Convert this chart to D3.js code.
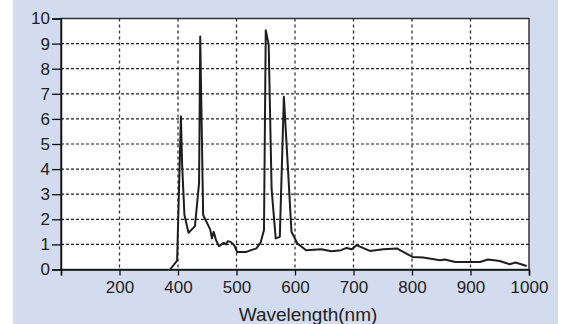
<!DOCTYPE html>
<html>
<head>
<meta charset="utf-8">
<script src="https://cdn.jsdelivr.net/npm/d3@7"></script>
<style>
  body { margin: 0; background: #fff; }
  svg { display: block; }
  .tick text { font-family: "Liberation Sans", Arial, sans-serif; font-size: 17px; fill: #222; }
</style>
</head>
<body>
<div id="chart"></div>
<script>
// valeurs (nm, intensité)
var longueurs = [373, 397, 405, 407, 411, 418, 429, 436, 438, 443, 455, 458, 461, 465, 470, 478, 482, 485, 490, 496,
  501, 517, 525, 534, 541, 547, 550, 555, 560, 567, 574, 581, 588, 594, 604, 619, 645, 662, 679, 688, 697, 705,
  728, 751, 774, 801, 819, 848, 856, 874, 916, 930, 950, 967, 977, 996];
var intensites = [0, 0.35, 6.1, 4.2, 2.17, 1.46, 1.73, 3.45, 9.28, 2.17, 1.6, 1.24, 1.5, 1.17, 0.93, 1.06, 1.0, 1.13, 1.1, 0.97,
  0.7, 0.7, 0.77, 0.84, 1.06, 1.57, 9.53, 8.97, 3.2, 1.24, 1.3, 6.88, 4.0, 1.5, 1.04, 0.77, 0.81, 0.73, 0.77, 0.86, 0.81, 0.97,
  0.74, 0.81, 0.84, 0.5, 0.48, 0.37, 0.4, 0.3, 0.3, 0.4, 0.34, 0.21, 0.28, 0.14];

var ticksX = [0, 200, 400, 500, 600, 700, 800, 900, 1000];
var ticksY = [0, 1, 2, 3, 4, 5, 6, 7, 8, 9, 10];
var titreX = "Wavelength(nm)";

var largeur = 584, hauteur = 324;
var marge = { haut: 18.5, gauche: 61 };
var w = 468, h = 251;

var svg = d3.select("#chart").append("svg")
  .attr("width", largeur)
  .attr("height", hauteur);

// fond bleuté
svg.append("rect")
  .attr("x", 13).attr("y", 0)
  .attr("width", 545).attr("height", hauteur)
  .attr("fill", "#d3dbee");

var g = svg.append("g").attr("transform", "translate(" + marge.gauche + "," + marge.haut + ")");

g.append("rect").attr("width", w).attr("height", h).attr("fill", "#fff");

// axe x par morceaux : 0-200, 200-400 puis 400-1000
var x = d3.scaleLinear().domain([0, 200, 400, 1000]).range([0, w / 8, w / 4, w]);
var y = d3.scaleLinear().domain([0, 10]).range([h, 0]);

// grille pointillée
g.append("g").selectAll("line")
  .data(ticksX.slice(1, -1))
  .enter().append("line")
  .attr("x1", d => x(d)).attr("x2", d => x(d))
  .attr("y1", 0).attr("y2", h)
  .attr("stroke", "#333").attr("stroke-width", 1.3).attr("stroke-dasharray", "3,3");

g.append("g").selectAll("line")
  .data(ticksY.slice(1, -1))
  .enter().append("line")
  .attr("x1", 0).attr("x2", w)
  .attr("y1", d => y(d)).attr("y2", d => y(d))
  .attr("stroke", "#222").attr("stroke-width", 1.2).attr("stroke-dasharray", "3,2");

// cadre
g.append("rect").attr("width", w).attr("height", h)
  .attr("fill", "none").attr("stroke", "#333").attr("stroke-width", 1.5);

var axeX = g.append("g")
  .attr("transform", "translate(0," + h + ")")
  .call(d3.axisBottom(x).tickValues(ticksX).tickSize(6).tickPadding(5)
    .tickFormat(d => d === 0 ? "" : d));
var axeY = g.append("g")
  .call(d3.axisLeft(y).tickValues(ticksY).tickSize(9).tickPadding(2));

[axeX, axeY].forEach(a => {
  a.select(".domain").attr("stroke", "#111").attr("stroke-width", 1.5);
  a.selectAll(".tick line").attr("stroke", "#111").attr("stroke-width", 1.3);
});

// courbe
var ligne = d3.line()
  .x((d, i) => x(longueurs[i]))
  .y(d => y(d));

g.append("path")
  .datum(intensites)
  .attr("d", ligne)
  .attr("fill", "none")
  .attr("stroke", "#1e1e1e")
  .attr("stroke-width", 2)
  .attr("stroke-linejoin", "round");

svg.append("text")
  .attr("x", 308).attr("y", 321)
  .attr("text-anchor", "middle")
  .style("font-family", "'Liberation Sans', Arial, sans-serif")
  .style("font-size", "19px")
  .attr("fill", "#222")
  .text(titreX);
</script>
</body>
</html>
